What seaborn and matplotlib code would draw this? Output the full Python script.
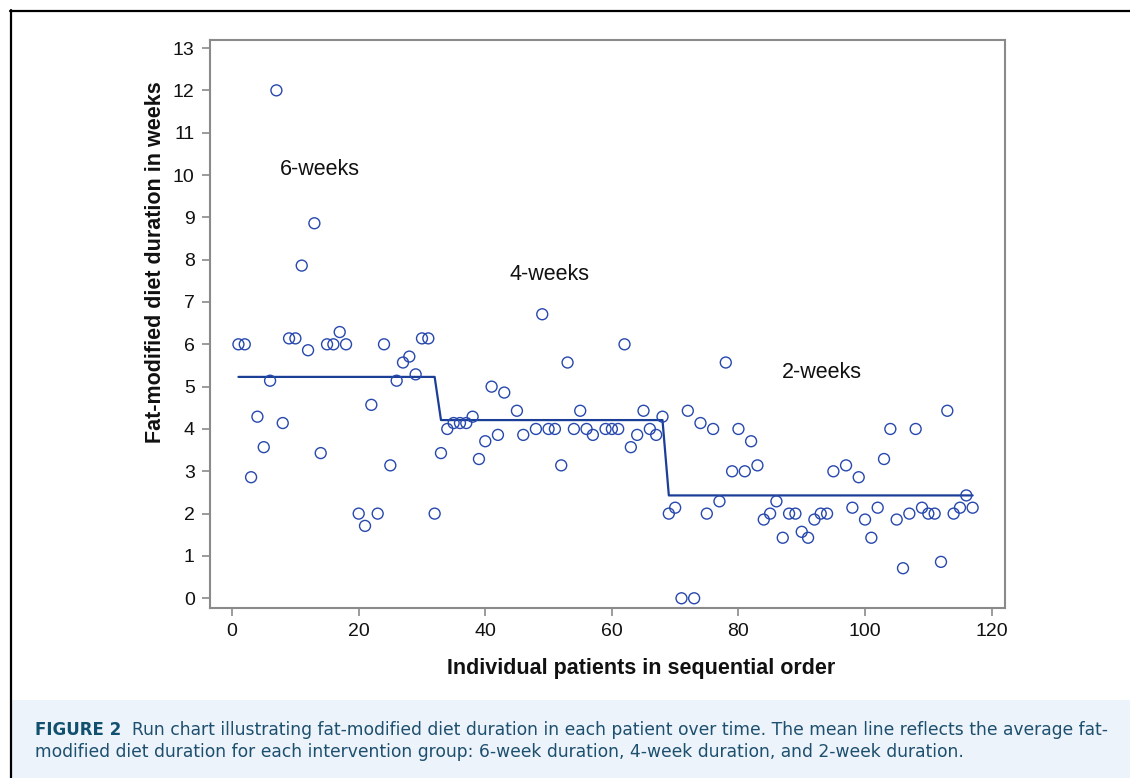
import numpy as np
import pandas as pd
import seaborn as sns
import matplotlib.pyplot as plt
from matplotlib.patches import Rectangle
from matplotlib.lines import Line2D

# patient order and diet duration (weeks)
patients_6wk = [1, 2, 3, 4, 5, 6, 7, 8, 9, 10, 11, 12, 13, 14, 15, 16, 17, 18,
                20, 21, 22, 23, 24, 25, 26, 27, 28, 29, 30, 31, 32]
weeks_6wk = [6.0, 6.0, 2.86, 4.29, 3.57, 5.14, 12.0, 4.14, 6.14, 6.14, 7.86, 5.86,
             8.86, 3.43, 6.0, 6.0, 6.29, 6.0, 2.0, 1.71, 4.57, 2.0, 6.0, 3.14,
             5.14, 5.57, 5.71, 5.29, 6.14, 6.14, 2.0]

patients_4wk = [33, 34, 35, 36, 37, 38, 39, 40, 41, 42, 43, 45, 46, 48, 49, 50, 51,
                52, 53, 54, 55, 56, 57, 59, 60, 61, 62, 63, 64, 65, 66, 67, 68]
weeks_4wk = [3.43, 4.0, 4.14, 4.14, 4.14, 4.29, 3.29, 3.71, 5.0, 3.86, 4.86, 4.43,
             3.86, 4.0, 6.71, 4.0, 4.0, 3.14, 5.57, 4.0, 4.43, 4.0, 3.86, 4.0,
             4.0, 4.0, 6.0, 3.57, 3.86, 4.43, 4.0, 3.86, 4.29]

patients_2wk = [69, 70, 71, 72, 73, 74, 75, 76, 77, 78, 79, 80, 81, 82, 83, 84, 85,
                86, 87, 88, 89, 90, 91, 92, 93, 94, 95, 97, 98, 99, 100, 101, 102,
                103, 104, 105, 106, 107, 108, 109, 110, 111, 112, 113, 114, 115,
                116, 117]
weeks_2wk = [2.0, 2.14, 0.0, 4.43, 0.0, 4.14, 2.0, 4.0, 2.29, 5.57, 3.0, 4.0, 3.0,
             3.71, 3.14, 1.86, 2.0, 2.29, 1.43, 2.0, 2.0, 1.57, 1.43, 1.86, 2.0,
             2.0, 3.0, 3.14, 2.14, 2.86, 1.86, 1.43, 2.14, 3.29, 4.0, 1.86, 0.71,
             2.0, 4.0, 2.14, 2.0, 2.0, 0.86, 4.43, 2.0, 2.14, 2.43, 2.14]

# group mean lines
group_first = [1, 33, 69]
group_last = [32, 68, 117]
group_means = [5.23, 4.21, 2.43]
group_labels = ['6-weeks', '4-weeks', '2-weeks']

df = pd.DataFrame({
    'patient': patients_6wk + patients_4wk + patients_2wk,
    'weeks': weeks_6wk + weeks_4wk + weeks_2wk,
})

mean_x, mean_y = [], []
for a, b, m in zip(group_first, group_last, group_means):
    mean_x += [a, b]
    mean_y += [m, m]
mean_df = pd.DataFrame({'patient': mean_x, 'weeks': mean_y})

sns.set_theme(style='white')
plt.rcParams['font.family'] = ['Liberation Sans', 'DejaVu Sans']

fig = plt.figure(figsize=(11.3, 7.78), dpi=100)
ax = fig.add_axes([0.1858, 0.2185, 0.7035, 0.7301])

sns.lineplot(data=mean_df, x='patient', y='weeks', color='#1b3f97',
             linewidth=1.6, sort=False, ax=ax, zorder=2)
sns.scatterplot(data=df, x='patient', y='weeks', marker='o', s=62,
                facecolors='none', edgecolor='#2748ad', linewidth=1.0,
                ax=ax, zorder=3)

# group annotations
ax.text(13.9, 10.13, group_labels[0], fontsize=15.5, ha='center', va='center', color='#111111')
ax.text(50.1, 7.66, group_labels[1], fontsize=15.5, ha='center', va='center', color='#111111')
ax.text(93.2, 5.33, group_labels[2], fontsize=15.5, ha='center', va='center', color='#111111')

ax.set_xlim(-3.5, 122.1)
ax.set_ylim(-0.23, 13.19)
ax.set_xticks(range(0, 121, 20))
ax.set_yticks(range(0, 14))
ax.tick_params(axis='both', which='major', length=6, width=1.2, color='#8a8a8a',
               labelsize=14, labelcolor='#111111', direction='out',
               bottom=True, left=True, pad=5)
for sp in ax.spines.values():
    sp.set_color('#8a8a8a')
    sp.set_linewidth(1.5)

ax.set_xlabel('Individual patients in sequential order', fontsize=15.5,
              fontweight='bold', color='#111111', va='center')
ax.set_ylabel('Fat-modified diet duration in weeks', fontsize=15.5,
              fontweight='bold', color='#111111', va='center')
ax.xaxis.set_label_coords(0.543, -0.106)
ax.yaxis.set_label_coords(-0.069, 0.609)

# outer frame lines
fig.add_artist(Line2D([10 / 1130, 1], [1 - 10.5 / 778, 1 - 10.5 / 778],
                      transform=fig.transFigure, color='black', linewidth=1.6))
fig.add_artist(Line2D([10.5 / 1130, 10.5 / 1130], [0, 1 - 10 / 778],
                      transform=fig.transFigure, color='black', linewidth=1.6))

# caption box
fig.add_artist(Rectangle((12 / 1130, 0), 1 - 12 / 1130, 78 / 778,
                         transform=fig.transFigure, facecolor='#edf3fa',
                         edgecolor='none', zorder=0))
cap_color = '#1d4f6e'
t1 = fig.text(35 / 1130, 1 - 730 / 778, 'FIGURE 2', fontsize=12, fontweight='bold',
              color='#12506f', va='center', ha='left', family=['DejaVu Sans'])
ax.annotate('  Run chart illustrating fat-modified diet duration in each patient over time. '
            'The mean line reflects the average fat-',
            xy=(1, 0.5), xycoords=t1, va='center', ha='left', fontsize=12.3,
            color=cap_color, annotation_clip=False, family=['DejaVu Sans'])
fig.text(35 / 1130, 1 - 752 / 778,
         'modified diet duration for each intervention group: 6-week duration, '
         '4-week duration, and 2-week duration.',
         fontsize=12.3, color=cap_color, va='center', ha='left', family=['DejaVu Sans'])

fig.savefig('out.png', dpi=100)
